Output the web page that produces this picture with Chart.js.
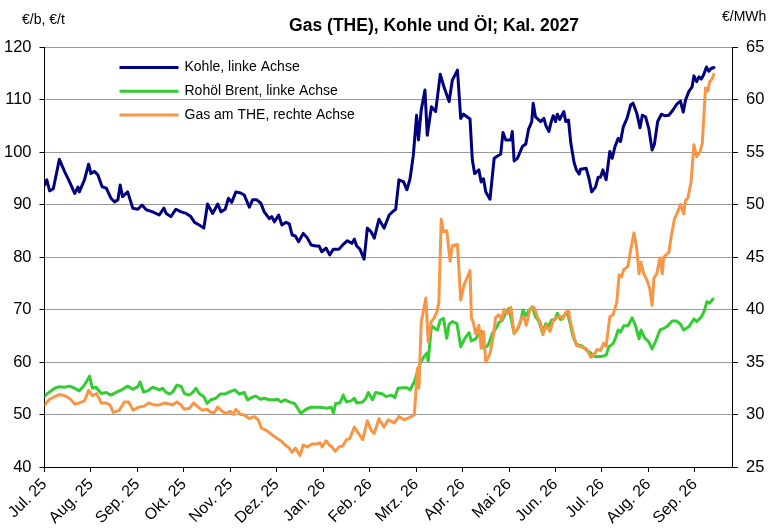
<!DOCTYPE html>
<html>
<head>
<meta charset="utf-8">
<script src="https://cdn.jsdelivr.net/npm/chart.js@4.4.1/dist/chart.umd.min.js"></script>
<style>
html,body{margin:0;padding:0;background:#fff;}
#wrap{width:781px;height:532px;}
</style>
</head>
<body>
<div id="wrap"><canvas id="c" width="781" height="532"></canvas></div>
<script>
// ---- Data (x = position in months since Jul 2025) ----
const monthLabels = ["Jul. 25","Aug. 25","Sep. 25","Okt. 25","Nov. 25","Dez. 25","Jan. 26","Feb. 26","Mrz. 26","Apr. 26","Mai 26","Jun. 26","Jul. 26","Aug. 26","Sep. 26"];

const kohleT = [0.00,0.05,0.11,0.19,0.32,0.43,0.52,0.65,0.72,0.75,
0.86,0.95,1.00,1.08,1.15,1.24,1.33,1.43,1.51,1.58,
1.63,1.68,1.79,1.90,2.01,2.10,2.19,2.33,2.47,2.57,
2.62,2.72,2.83,2.94,3.05,3.15,3.23,3.33,3.43,3.51,
3.62,3.73,3.80,3.89,3.96,4.03,4.12,4.22,4.30,4.41,
4.48,4.57,4.66,4.73,4.84,4.89,4.95,5.04,5.11,5.20,
5.27,5.33,5.40,5.47,5.57,5.66,5.74,5.84,5.91,5.97,
6.06,6.14,6.22,6.34,6.42,6.52,6.62,6.67,6.72,6.79,
6.88,6.95,7.03,7.10,7.20,7.31,7.42,7.49,7.56,7.63,
7.73,7.80,7.87,7.94,8.01,8.05,8.11,8.19,8.24,8.33,
8.42,8.52,8.60,8.71,8.78,8.89,8.96,9.02,9.16,9.21,
9.26,9.35,9.40,9.45,9.50,9.59,9.68,9.82,9.87,9.93,
10.04,10.07,10.11,10.18,10.29,10.36,10.42,10.49,10.52,10.57,
10.68,10.75,10.79,10.86,10.90,10.95,11.00,11.04,11.09,11.18,
11.22,11.28,11.33,11.40,11.45,11.51,11.54,11.66,11.72,11.78,
11.86,11.92,11.97,12.02,12.09,12.17,12.22,12.28,12.35,12.40,
12.46,12.54,12.62,12.67,12.75,12.82,12.87,12.94,13.01,13.08,
13.13,13.20,13.28,13.35,13.44,13.53,13.61,13.69,13.75,13.80,
13.87,13.94,13.98,14.04,14.09,14.14,14.19,14.25,14.30,14.35,
14.41];
const kohleV = [93.7,94.7,92.6,93.0,98.6,96.3,94.7,92.1,93.3,92.4,
94.7,97.7,95.9,96.3,95.6,93.4,93.1,91.2,90.5,90.9,
93.7,91.5,92.4,89.3,89.1,89.9,89.0,88.6,88.0,89.3,
88.3,87.7,89.1,88.6,88.3,87.7,86.6,86.1,85.5,90.1,
88.3,90.1,88.6,89.1,91.2,90.4,92.4,92.2,91.8,89.5,
90.9,90.9,90.2,88.6,87.3,87.7,86.7,88.0,86.1,86.6,
86.3,84.2,84.0,82.9,84.5,83.6,82.3,82.1,82.1,81.0,
81.7,80.4,81.5,81.5,82.3,83.1,82.6,83.4,82.1,81.5,
79.6,85.5,84.8,83.6,87.2,85.5,88.0,88.6,89.1,94.7,
94.3,92.8,94.9,99.4,107.0,102.3,108.0,111.8,103.2,108.6,
107.7,114.8,112.4,109.6,113.7,115.6,106.4,107.2,106.3,98.5,
95.9,96.6,94.3,94.9,92.4,91.0,98.8,99.6,103.7,102.3,
102.3,103.9,98.3,98.8,101.1,101.5,104.3,105.8,109.3,106.7,
105.8,106.4,105.1,103.9,105.5,106.9,105.8,107.2,106.2,107.7,
105.8,106.1,101.7,98.0,96.6,95.8,96.7,96.9,95.0,92.4,
93.3,95.2,95.2,96.6,94.7,100.1,98.8,101.0,102.6,102.0,
104.8,106.4,109.0,109.3,107.4,104.6,107.0,106.7,104.4,100.4,
101.5,105.8,107.2,106.9,107.0,108.0,109.1,109.7,107.6,109.9,
111.5,112.4,114.5,113.4,114.3,113.9,114.7,116.2,115.4,115.9,
116.1];

const brentT = [0.00,0.11,0.22,0.32,0.43,0.54,0.65,0.75,0.86,0.97,
1.03,1.11,1.22,1.33,1.43,1.54,1.68,1.79,1.90,2.01,
2.06,2.13,2.22,2.33,2.47,2.54,2.62,2.69,2.76,2.85,
2.94,3.01,3.12,3.19,3.26,3.33,3.43,3.50,3.58,3.69,
3.78,3.89,3.98,4.10,4.19,4.30,4.37,4.48,4.55,4.65,
4.73,4.84,4.95,5.02,5.09,5.18,5.27,5.38,5.45,5.52,
5.63,5.74,5.91,6.09,6.17,6.22,6.27,6.36,6.43,6.50,
6.60,6.67,6.72,6.85,6.92,6.97,7.06,7.13,7.28,7.35,
7.47,7.54,7.61,7.71,7.80,7.87,7.96,8.03,8.09,8.17,
8.23,8.26,8.33,8.40,8.46,8.52,8.59,8.66,8.71,8.78,
8.88,8.96,9.05,9.14,9.19,9.28,9.39,9.46,9.55,9.64,
9.74,9.78,9.86,9.94,10.00,10.11,10.18,10.25,10.30,10.36,
10.43,10.50,10.57,10.65,10.72,10.79,10.86,10.92,10.99,11.04,
11.11,11.18,11.25,11.31,11.38,11.45,11.51,11.58,11.66,11.76,
11.83,11.90,12.01,12.09,12.15,12.24,12.29,12.35,12.40,12.47,
12.56,12.65,12.72,12.80,12.84,12.92,13.01,13.08,13.15,13.25,
13.33,13.42,13.51,13.61,13.69,13.76,13.87,13.98,14.04,14.14,
14.21,14.26,14.32,14.39];
const brentV = [53.5,54.3,55.0,55.3,55.2,55.4,55.0,54.5,55.6,57.3,
55.0,55.2,54.0,54.2,53.7,54.2,54.8,55.4,54.8,55.3,
56.2,54.3,54.5,55.2,54.7,55.0,54.2,53.9,54.3,55.6,
55.4,54.0,53.7,54.2,55.0,54.0,53.4,52.1,52.8,53.1,
53.9,53.9,54.3,54.7,53.9,54.2,52.8,53.3,53.5,52.9,
53.1,52.8,52.8,52.9,52.4,52.8,52.4,52.1,51.2,50.2,
51.0,51.4,51.4,51.2,51.4,50.3,52.1,52.2,53.7,52.4,
52.6,53.1,52.2,52.4,53.1,54.2,52.8,54.2,53.9,53.4,
53.7,53.2,55.0,55.1,55.1,54.7,56.2,58.2,59.8,61.0,
61.7,60.2,66.9,66.4,66.1,68.0,68.3,64.5,67.2,67.7,
67.3,62.9,64.5,65.6,64.0,64.4,65.9,62.6,63.2,65.4,
66.7,67.5,68.0,69.6,70.2,65.5,66.2,67.7,69.9,68.8,
69.8,70.5,68.6,67.7,65.5,67.3,66.9,68.0,68.1,69.3,
68.1,68.8,69.6,67.5,64.8,63.4,63.2,63.0,62.3,61.7,
61.1,61.0,61.1,61.3,62.9,63.5,64.5,66.1,65.7,66.9,
66.9,68.4,67.0,64.4,66.1,64.6,63.8,62.5,63.8,66.1,
66.4,66.9,67.8,67.8,67.2,66.1,66.7,68.2,67.7,68.6,
69.9,71.5,71.2,72.0];

const gasT = [0.00,0.11,0.22,0.32,0.43,0.54,0.65,0.75,0.86,0.95,
1.03,1.12,1.22,1.33,1.41,1.48,1.61,1.72,1.81,1.91,
2.03,2.15,2.24,2.37,2.47,2.58,2.69,2.76,2.85,2.94,
3.01,3.12,3.21,3.31,3.40,3.50,3.58,3.66,3.73,3.83,
3.91,4.00,4.07,4.12,4.22,4.30,4.41,4.52,4.60,4.67,
4.77,4.86,4.92,5.02,5.09,5.18,5.27,5.33,5.40,5.50,
5.57,5.66,5.76,5.86,5.93,5.98,6.06,6.13,6.19,6.26,
6.34,6.42,6.50,6.57,6.67,6.76,6.85,6.95,7.03,7.10,
7.20,7.31,7.40,7.53,7.63,7.74,7.85,7.96,8.03,8.06,
8.11,8.21,8.26,8.32,8.39,8.45,8.49,8.54,8.59,8.66,
8.73,8.78,8.89,8.96,9.03,9.16,9.19,9.23,9.28,9.35,
9.40,9.45,9.50,9.59,9.66,9.71,9.78,9.84,9.89,9.96,
10.04,10.11,10.18,10.27,10.32,10.37,10.45,10.54,10.61,10.68,
10.73,10.80,10.88,10.95,11.02,11.09,11.16,11.22,11.28,11.33,
11.40,11.45,11.52,11.58,11.66,11.76,11.83,11.90,11.97,12.04,
12.09,12.17,12.24,12.32,12.37,12.42,12.47,12.56,12.62,12.69,
12.75,12.80,12.84,12.90,12.97,13.03,13.08,13.12,13.18,13.25,
13.30,13.33,13.44,13.49,13.56,13.63,13.69,13.76,13.80,13.85,
13.92,13.98,14.04,14.11,14.16,14.23,14.28,14.32,14.37,14.41];
const gasV = [30.9,31.45,31.7,31.9,31.8,31.55,31.0,31.1,31.3,32.3,
31.8,32.0,31.1,31.1,30.9,30.2,30.4,31.2,31.2,30.4,
30.7,30.8,31.1,30.9,30.9,31.1,31.0,30.9,31.2,30.9,
30.5,30.6,31.1,30.7,30.4,30.5,30.2,30.2,30.7,30.3,
30.1,30.3,30.0,30.5,30.0,29.95,29.6,29.8,29.5,28.7,
28.5,28.2,28.0,27.7,27.5,27.1,26.8,26.4,26.8,26.1,
27.1,26.9,27.2,27.2,27.3,26.9,27.5,27.1,26.9,26.5,
26.9,27.0,27.6,27.7,28.8,28.2,27.6,29.4,28.5,28.2,
29.6,28.8,29.5,29.2,29.8,29.5,29.7,29.95,34.4,32.5,
38.8,41.1,36.9,38.8,39.2,39.8,40.7,48.6,47.4,47.5,
44.6,46.1,46.2,40.9,42.3,43.7,39.2,38.8,37.7,38.5,
36.3,37.9,35.0,35.8,37.4,39.2,39.5,39.0,40.0,39.6,
40.2,37.7,38.1,39.2,39.3,38.5,40.0,40.2,39.3,38.7,
37.6,38.5,37.9,38.9,39.2,39.4,39.1,39.7,39.9,38.7,
37.35,36.6,36.5,36.4,36.3,35.45,35.7,36.2,36.1,36.8,
36.5,39.3,39.5,40.7,43.3,43.1,43.8,44.1,45.7,47.3,
45.8,43.4,44.5,43.4,42.8,42.0,40.4,43.0,43.4,44.9,
43.4,45.0,45.45,46.9,48.6,49.3,50.0,49.1,50.4,50.6,
52.2,55.7,54.55,55.0,55.8,61.1,60.8,61.7,61.95,62.4];

const leftTicks = {min: 40, max: 120, step: 10};
const rightTicks = {min: 25, max: 65, step: 5};
const xRangeMax = 14.8;

const titleText = "Gas (THE), Kohle und Öl; Kal. 2027";
const leftUnit = "€/b, €/t";
const rightUnit = "€/MWh";

// ---- Chart ----
const FONT = "'Liberation Sans', Arial, Helvetica, sans-serif";
Chart.defaults.font.family = FONT;
Chart.defaults.color = '#000';

function pts(t, v){ return t.map((x,i)=>({x:x, y:v[i]})); }

const decor = {
  id: 'decor',
  afterDraw(chart){
    const ctx = chart.ctx;
    const ca = chart.chartArea;
    ctx.save();
    ctx.fillStyle = '#000';
    ctx.font = "bold 17.5px " + FONT;
    ctx.textAlign = 'center';
    ctx.textBaseline = 'alphabetic';
    ctx.fillText(titleText, 434, 31);
    ctx.font = "14px " + FONT;
    ctx.textAlign = 'left';
    ctx.fillText(leftUnit, 22, 24);
    ctx.fillText(rightUnit, 722, 21);
    // legend inside plot area
    const x0 = 119.5, x1 = 178.5, tx = 184.5;
    let y = ca.top + 20.5;
    ctx.font = "14px " + FONT;
    ctx.textBaseline = 'middle';
    chart.data.datasets.forEach(ds => {
      ctx.strokeStyle = ds.borderColor;
      ctx.lineWidth = 3;
      ctx.beginPath();
      ctx.moveTo(x0, y); ctx.lineTo(x1, y);
      ctx.stroke();
      ctx.fillStyle = '#000';
      ctx.fillText(ds.label, tx, y);
      y += 23.7;
    });
    ctx.restore();
  }
};

new Chart(document.getElementById('c'), {
  type: 'line',
  data: {
    datasets: [
      {label: 'Kohle, linke Achse', data: pts(kohleT, kohleV), yAxisID: 'y',
       borderColor: '#000080', borderWidth: 3, pointRadius: 0, tension: 0, order: 3,
       borderJoinStyle: 'round', borderCapStyle: 'round'},
      {label: 'Rohöl Brent, linke Achse', data: pts(brentT, brentV), yAxisID: 'y',
       borderColor: '#33CC33', borderWidth: 3, pointRadius: 0, tension: 0, order: 2,
       borderJoinStyle: 'round', borderCapStyle: 'round'},
      {label: 'Gas am THE, rechte Achse', data: pts(gasT, gasV), yAxisID: 'y2',
       borderColor: '#F79646', borderWidth: 3, pointRadius: 0, tension: 0, order: 1,
       borderJoinStyle: 'round', borderCapStyle: 'round'}
    ]
  },
  options: {
    responsive: false,
    animation: false,
    devicePixelRatio: 1,
    layout: {padding: {top: 47, left: 0, right: 0, bottom: 0}},
    plugins: {legend: {display: false}, tooltip: {enabled: false}, title: {display: false}},
    scales: {
      x: {
        type: 'linear', position: 'bottom', min: 0, max: xRangeMax,
        afterBuildTicks: s => { s.ticks = monthLabels.map((l, i) => ({value: i})); },
        afterFit: s => { s.height = 65; },
        grid: {display: true, drawOnChartArea: false, drawTicks: true, tickLength: 5, tickColor: '#000'},
        border: {display: true, color: '#000', width: 1},
        ticks: {autoSkip: false, minRotation: 45, maxRotation: 45, padding: 3,
                font: {size: 16}, color: '#000',
                callback: v => monthLabels[v]}
      },
      y: {
        position: 'left', min: leftTicks.min, max: leftTicks.max,
        afterFit: s => { s.width = 44.5; },
        grid: {color: '#999999', lineWidth: 1, tickColor: '#000', tickLength: 5},
        border: {display: true, color: '#000', width: 1},
        ticks: {stepSize: leftTicks.step, padding: 8, font: {size: 16.5}, color: '#000'}
      },
      y2: {
        position: 'right', min: rightTicks.min, max: rightTicks.max,
        afterFit: s => { s.width = 49; },
        grid: {drawOnChartArea: false, tickColor: '#000', tickLength: 6},
        border: {display: true, color: '#000', width: 1},
        ticks: {stepSize: rightTicks.step, padding: 8, font: {size: 16.5}, color: '#000'}
      }
    }
  },
  plugins: [decor]
});
</script>
</body>
</html>
